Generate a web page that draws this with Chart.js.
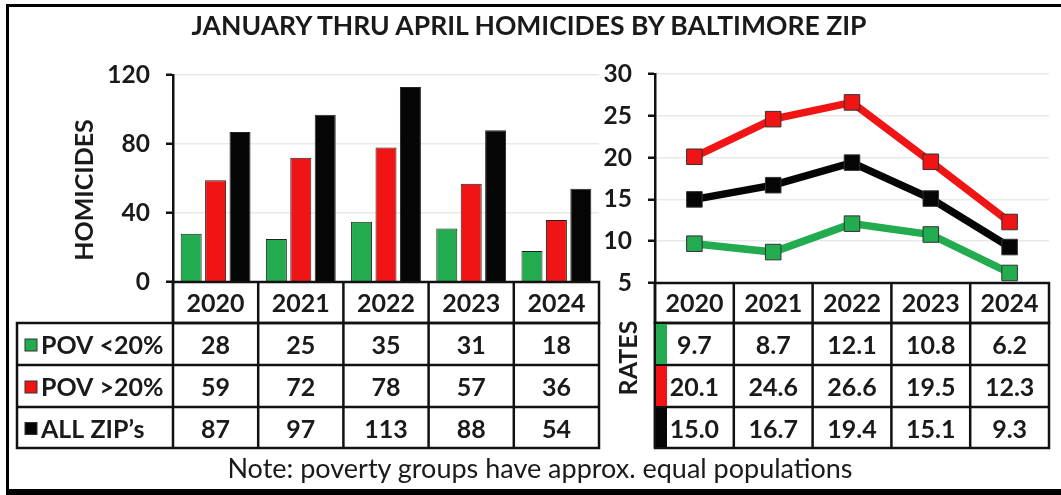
<!DOCTYPE html>
<html>
<head>
<meta charset="utf-8">
<script src="https://cdn.jsdelivr.net/npm/chart.js@4.4.0/dist/chart.umd.min.js"></script>
<style>
  body { margin: 0; background: #fff; font-family: Lato, sans-serif; }
  #wrap { position: relative; width: 1061px; height: 495px; overflow: hidden; background: #fff; }
  #frame { position: absolute; left: 6px; top: 4px; width: 1060px; height: 482px;
           border-left: 3px solid #000; border-top: 3px solid #000; border-bottom: 6px solid #000; }
  .txt { position: absolute; color: #1a1a1a; white-space: nowrap; }
  #title { left: 0; width: 1058px; top: 12px; text-align: center; font: bold 26.5px/26px Lato, sans-serif; }
  #note { left: 0; width: 1080px; top: 455px; text-align: center; font: 27px/26px Lato, sans-serif; }
  .rot { width: 200px; height: 30px; line-height: 30px; text-align: center; font: bold 25px Lato, sans-serif;
         transform: rotate(-90deg); }
  #homTitle { left: -17px; top: 175px; }
  #rateTitle { left: 527px; top: 343px; }
  canvas { position: absolute; top: 0; }
  #left { left: 0; }
  #right { left: 600px; }
</style>
</head>
<body>
<div id="wrap">
  <div id="frame"></div>
  <canvas id="left" width="610" height="460"></canvas>
  <canvas id="right" width="461" height="460"></canvas>
  <div class="txt" id="title">JANUARY THRU APRIL HOMICIDES BY BALTIMORE ZIP</div>
  <div class="txt rot" id="homTitle">HOMICIDES</div>
  <div class="txt rot" id="rateTitle">RATES</div>
  <div class="txt" id="note">Note: poverty groups have approx. equal populations</div>
</div>
<script>
// données
const years = ['2020', '2021', '2022', '2023', '2024'];
const groupNames = ['POV <20%', 'POV >20%', 'ALL ZIP\u2019s'];
const groupColors = ['#22ab4f', '#f01414', '#050505'];

const homLow = [28, 25, 35, 31, 18];
const homHigh = [59, 72, 78, 57, 36];
const homAll = [87, 97, 113, 88, 54];

const rateLow = [9.7, 8.7, 12.1, 10.8, 6.2];
const rateHigh = [20.1, 24.6, 26.6, 19.5, 12.3];
const rateAll = [15.0, 16.7, 19.4, 15.1, 9.3];

const homTicks = [0, 40, 80, 120];
const rateTicks = [5, 10, 15, 20, 25, 30];

// tableau de données sous l'axe x
const dataTable = {
  id: 'dataTable',
  afterDraw(chart, args, o) {
    const ctx = chart.ctx, a = chart.chartArea, x = chart.scales.x;
    const n = chart.data.labels.length;
    const half = (a.right - a.left) / n / 2;
    const ys = o.edges.map(d => a.bottom + d);
    const last = ys[ys.length - 1];
    const left = o.headerLeft;
    ctx.save();
    ctx.strokeStyle = '#111';
    ctx.lineWidth = 2.5;
    ctx.strokeRect(a.left, ys[0], a.right - a.left, ys[1] - ys[0]);
    ctx.strokeRect(left, ys[1], a.right - left, last - ys[1]);
    ctx.beginPath();
    for (let i = 2; i < ys.length - 1; i++) { ctx.moveTo(left, ys[i]); ctx.lineTo(a.right, ys[i]); }
    for (let i = 0; i < n; i++) {
      const b = x.getPixelForValue(i) - half;
      ctx.moveTo(b, ys[0]); ctx.lineTo(b, last);
    }
    ctx.stroke();

    ctx.fillStyle = '#1a1a1a';
    ctx.font = 'bold 25px Lato';
    ctx.textAlign = 'center';
    ctx.textBaseline = 'middle';
    chart.data.labels.forEach((lab, i) => ctx.fillText(lab, x.getPixelForValue(i), (ys[0] + ys[1]) / 2 + 1));

    chart.data.datasets.forEach((ds, r) => {
      const top = ys[r + 1], bot = ys[r + 2];
      const cy = (top + bot) / 2 + 2;
      ctx.fillStyle = '#1a1a1a';
      ctx.textAlign = 'center';
      ds.data.forEach((v, i) => ctx.fillText(o.format(v), x.getPixelForValue(i), cy));
      if (o.key === 'square') {
        ctx.fillStyle = groupColors[r];
        ctx.fillRect(left + 8, cy - 7, 12, 12);
        ctx.lineWidth = 1;
        ctx.strokeStyle = '#333';
        ctx.strokeRect(left + 8, cy - 7, 12, 12);
        ctx.fillStyle = '#1a1a1a';
        ctx.textAlign = 'left';
        ctx.fillText(ds.label, left + 24, cy);
      } else {
        ctx.fillStyle = groupColors[r];
        ctx.fillRect(a.left + 1, top + 1, 11, bot - top - 2);
      }
    });
    ctx.restore();
  }
};

const yCommon = (ticks, width, pad) => ({
  min: ticks[0],
  max: ticks[ticks.length - 1],
  afterFit(scale) { scale.width = width; },
  ticks: { stepSize: ticks[1] - ticks[0], color: '#1a1a1a', font: { family: 'Lato', size: 24.5, weight: 'bold' }, padding: pad },
  grid: { color: '#e9e9e9', lineWidth: 1.5, tickLength: 7, tickColor: '#111', tickWidth: 2.5 },
  border: { color: '#111', width: 2.5 }
});

new Chart(document.getElementById('left'), {
  type: 'bar',
  data: {
    labels: years,
    datasets: [homLow, homHigh, homAll].map((d, i) => ({
      label: groupNames[i],
      data: d,
      backgroundColor: groupColors[i],
      borderColor: '#222',
      borderWidth: 1
    }))
  },
  options: {
    responsive: false,
    animation: false,
    layout: { padding: { left: 72, right: 11, top: 75, bottom: 178 } },
    datasets: { bar: { categoryPercentage: 0.86, barPercentage: 0.86 } },
    scales: {
      x: { display: false },
      y: yCommon(homTicks, 101, 16)
    },
    plugins: {
      legend: { display: false },
      tooltip: { enabled: false },
      dataTable: { edges: [0, 41, 83, 125, 166], headerLeft: 17, key: 'square', format: v => String(v) }
    }
  },
  plugins: [dataTable]
});

new Chart(document.getElementById('right'), {
  type: 'line',
  data: {
    labels: years,
    datasets: [rateLow, rateHigh, rateAll].map((d, i) => ({
      label: groupNames[i],
      data: d,
      borderColor: groupColors[i],
      backgroundColor: groupColors[i],
      borderWidth: 7.5,
      pointStyle: 'rect',
      pointRadius: 11,
      pointBorderWidth: 1,
      pointBorderColor: '#333',
      pointBackgroundColor: groupColors[i],
      clip: false
    }))
  },
  options: {
    responsive: false,
    animation: false,
    layout: { padding: { left: 0, right: 4, top: 74, bottom: 177 } },
    scales: {
      x: { display: false, offset: true },
      y: yCommon(rateTicks, 55, 16)
    },
    plugins: {
      legend: { display: false },
      tooltip: { enabled: false },
      dataTable: { edges: [0, 40, 82, 124, 165], headerLeft: 55, key: 'strip', format: v => v.toFixed(1) }
    }
  },
  plugins: [dataTable]
});
</script>
</body>
</html>
